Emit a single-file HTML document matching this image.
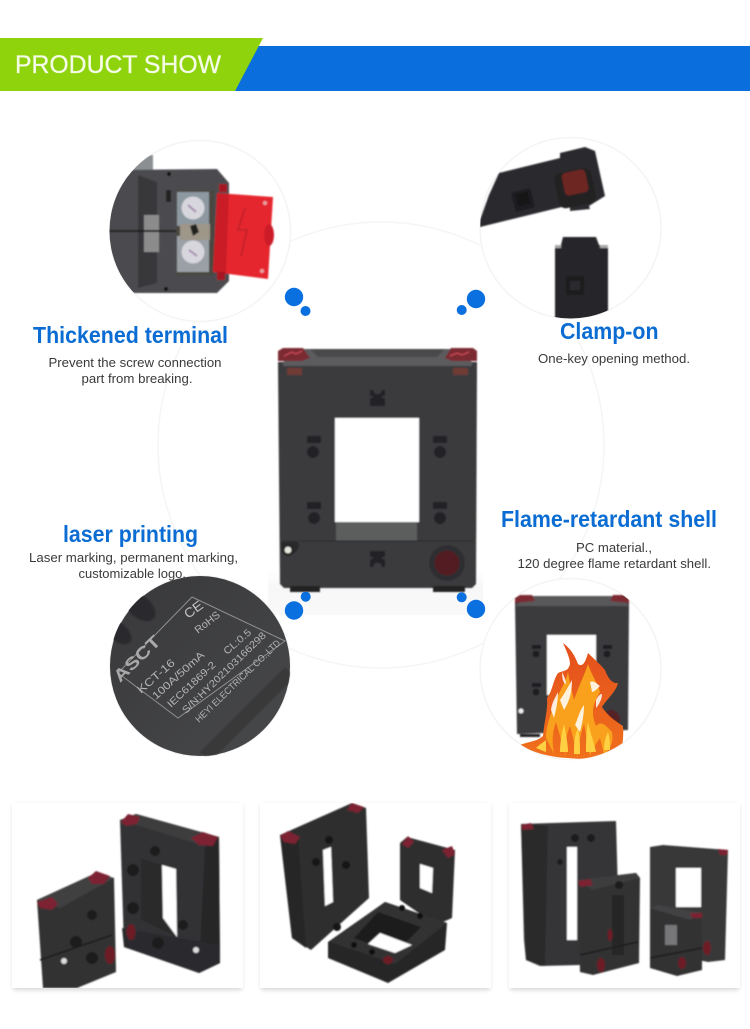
<!DOCTYPE html>
<html><head><meta charset="utf-8"><style>
html,body{margin:0;padding:0;background:#fff}
svg{display:block}
text{font-family:"Liberation Sans",sans-serif}
.t{font-weight:bold;fill:#0b6dd3;font-size:23px}
.d{fill:#3a3a3a;font-size:13px}
.l{fill:#b4b4b4;font-size:9.5px}
</style></head><body>
<svg width="750" height="1029" viewBox="0 0 750 1029" xmlns="http://www.w3.org/2000/svg">
<defs>
<filter id="s" x="-10%" y="-10%" width="120%" height="120%"><feGaussianBlur stdDeviation="0.8"/></filter>
<filter id="s2" x="-10%" y="-10%" width="120%" height="120%"><feGaussianBlur stdDeviation="0.35"/></filter>
<filter id="b" x="-20%" y="-20%" width="140%" height="140%"><feGaussianBlur stdDeviation="2.5"/></filter>
<clipPath id="c1"><circle cx="200" cy="231" r="90.5"/></clipPath>
<clipPath id="c2"><circle cx="570.5" cy="228" r="90.5"/></clipPath>
<clipPath id="c3"><circle cx="200" cy="666" r="90.5"/></clipPath>
<clipPath id="c4"><circle cx="570.5" cy="669" r="90.5"/></clipPath>
<clipPath id="k1"><rect x="12" y="803" width="231" height="185"/></clipPath>
<clipPath id="k2"><rect x="260" y="803" width="231" height="185"/></clipPath>
<clipPath id="k3"><rect x="509" y="803" width="231" height="185"/></clipPath>
<linearGradient id="g" x1="0" y1="0" x2="1" y2="1"><stop offset="0" stop-color="#38383a"/><stop offset="1" stop-color="#48494b"/></linearGradient>
<linearGradient id="pb" x1="0" y1="0" x2="0" y2="1"><stop offset="0" stop-color="#fff"/><stop offset=".4" stop-color="#f7f7f7"/><stop offset="1" stop-color="#f9f9f9"/></linearGradient>
<linearGradient id="fl" x1="0" y1="0" x2="0" y2="1"><stop offset="0" stop-color="#e44f1c"/><stop offset="1" stop-color="#f0701c"/></linearGradient>
</defs>

<!-- banner -->
<polygon points="255,46 750,46 750,91 235,91" fill="#0a6fdc"/>
<polygon points="0,38 263,38 235,91 0,91" fill="#8fd30c"/>
<text x="15" y="73" fill="#f4fbe6" stroke="#f4fbe6" stroke-width=".3" font-size="25" textLength="206" lengthAdjust="spacingAndGlyphs">PRODUCT SHOW</text>

<!-- big circle -->
<circle cx="381" cy="445" r="223" fill="#fff" stroke="#f5f5f5" stroke-width="1.5"/>
<rect x="268" y="570" width="215" height="45" fill="url(#pb)"/>

<!-- main product -->
<g filter="url(#s)">
<polygon points="278,362 477,362 476,584 472,588 284,588 280,584" fill="#3b3b3c"/>
<polygon points="300,349 455,349 472,362 472,366 283,366 283,362" fill="#5c5c5e"/>
<polygon points="310,349 445,349 437,357 318,357" fill="#4a4a4b"/>
<polygon points="278,351 283,348 303,348 310,358 302,361 278,361" fill="#7c2a33"/>
<polygon points="445,358 451,348 473,348 477,351 477,361 452,361" fill="#7c2a33"/>
<path d="M284,356l8,-4 4,2 6,-3M450,356l7,-3 5,2 7,-3" stroke="#d8505c" stroke-width="1" fill="none"/>
<rect x="287" y="368" width="15" height="7" fill="#6e3a35"/>
<rect x="453" y="368" width="15" height="7" fill="#6e3a35"/>
<rect x="335" y="418" width="84" height="104" fill="#fff"/>
<rect x="336" y="522" width="81" height="19" fill="#5c5d5d"/>
<path d="M300,541H473M298,541q0,5 -5,5H282" stroke="#222" stroke-width="1" fill="none"/>
<path d="M282,541a9,9 0 1,0 16,0z" fill="#2b2b2c"/>
<circle cx="288" cy="550" r="6" fill="#222"/><circle cx="288" cy="550" r="3.4" fill="#e8e8e0"/>
<circle cx="447" cy="563" r="18" fill="#2f2f30"/><circle cx="447" cy="563" r="12.5" fill="#521a24"/>
<rect x="290" y="586" width="30" height="6" fill="#232323"/><rect x="433" y="586" width="32" height="6" fill="#232323"/>
<g fill="#242425">
<rect x="307" y="436" width="14" height="7"/><circle cx="313" cy="452" r="6"/>
<rect x="307" y="502" width="14" height="7"/><circle cx="314" cy="518" r="6"/>
<rect x="433" y="436" width="14" height="7"/><circle cx="440" cy="452" r="6"/>
<rect x="433" y="502" width="14" height="7"/><circle cx="440" cy="518" r="6"/>
<path d="M370,390h3l2,4h5l2,-4h3v6h-3v2h3v8h-15v-8h3v-2h-3z"/>
<path d="M370,551h15v6h-3v2h3v8h-3l-2,-4h-5l-2,4h-3v-8h3v-2h-3z"/>
</g>
</g>

<!-- circle 1 -->
<circle cx="200" cy="231" r="90.5" fill="#fff" stroke="#f4f4f4" stroke-width="1.5"/>
<g clip-path="url(#c1)"><g filter="url(#s)">
<polygon points="137,156 153,155 153,170 124,170" fill="#8b8f92"/>
<polygon points="105,170 217,169 229,183 229,281 217,293 105,293" fill="#4c4c50"/>
<polygon points="138,175 157,182 157,283 138,288" fill="#38383a"/>
<rect x="144" y="215" width="15" height="37" fill="#8c8c8c"/>
<rect x="105" y="230" width="75" height="2" fill="#1c1c1c"/>
<circle cx="169" cy="174" r="2" fill="#111"/><circle cx="166" cy="289" r="2" fill="#111"/>
<rect x="166" y="190" width="5" height="12" fill="#222"/>
<rect x="176" y="190" width="38" height="85" fill="#4a463f"/>
<rect x="177" y="192" width="32" height="34" fill="#8d98a0"/>
<rect x="177" y="236" width="32" height="36" fill="#9aa0a6"/>
<rect x="180" y="224" width="30" height="16" fill="#9e9688"/>
<circle cx="193" cy="208" r="11.5" fill="#d8d6dd"/><circle cx="193" cy="252" r="11.5" fill="#d8d6dd"/>
<path d="M188,205l8,7M189,250l8,6" stroke="#a58cb0" stroke-width="2"/>
<polygon points="190,226 196,224 199,232 193,236" fill="#22211f"/>
<polygon points="217,193 273,197 268,279 213,272" fill="#e6252e"/>
<polygon points="217,193 229,194 226,274 213,272" fill="#c91e28"/>
<path d="M245,208l-7,22 9,0 -6,26" stroke="#c7202a" stroke-width="2" fill="none"/>
<ellipse cx="269" cy="235" rx="5" ry="11" fill="#cc1f29"/>
<circle cx="265" cy="203" r="2" fill="#e8a0a2"/><circle cx="262" cy="271" r="2" fill="#e8a0a2"/>
<rect x="219" y="184" width="8" height="8" fill="#a51921"/><rect x="217" y="272" width="8" height="8" fill="#a51921"/>
</g></g>

<!-- circle 2 -->
<circle cx="570.5" cy="228" r="90.5" fill="#fff" stroke="#f4f4f4" stroke-width="1.5"/>
<g clip-path="url(#c2)"><g filter="url(#s)">
<polygon points="499,173 560,158 560,153 585,147 595,151 605,196 589,206 590,209 570,211 570,205 480,227 480,220 489,195" fill="#2c2c2e"/>
<rect x="513" y="190" width="20" height="20" rx="2" fill="#1f1f20" transform="rotate(-14 523 200)"/>
<rect x="517" y="193" width="12" height="12" fill="#151516" transform="rotate(-14 523 199)"/>
<rect x="556" y="170" width="38" height="36" rx="7" fill="#232324" transform="rotate(-12 575 188)"/>
<rect x="563" y="171" width="24" height="23" rx="4" fill="#6e2620" transform="rotate(-12 575 182)"/>
<polygon points="563,237 596,237 599,245 608,246 608,320 555,320 555,246 561,245" fill="#27272a"/>
<rect x="555" y="245" width="6" height="3" fill="#aaa"/><rect x="600" y="245" width="8" height="3" fill="#aaa"/>
<rect x="566" y="276" width="18" height="19" fill="#1a1a1b"/>
<rect x="570" y="281" width="10" height="9" fill="#2c2c2e"/>
</g></g>

<!-- circle 3 -->
<circle cx="200" cy="666" r="90.5" fill="url(#g)" stroke="#f4f4f4" stroke-width="1"/>
<g clip-path="url(#c3)">
<ellipse cx="140" cy="607" rx="18" ry="11" transform="rotate(40 140 607)" fill="#2c2c2d" filter="url(#s)"/>
<ellipse cx="118" cy="632" rx="16" ry="9" transform="rotate(40 118 632)" fill="#2c2c2d" filter="url(#s)"/>
<path d="M205,757L290,672" stroke="#333" stroke-width="14" opacity=".6" filter="url(#s)"/>
<polygon points="192,597 285,641 178,718 118,673" fill="none" stroke="#8f8f8f" stroke-width="1"/>
</g>
<g filter="url(#s2)">
<text x="0" y="0" transform="translate(120,683) rotate(-44)" fill="#a8a8a8" font-size="17" font-weight="bold" textLength="58" lengthAdjust="spacingAndGlyphs">ASCT</text>
<text x="0" y="0" transform="translate(141,694) rotate(-41)" class="l" style="font-size:11px" textLength="46" lengthAdjust="spacingAndGlyphs">KCT-16</text>
<text x="0" y="0" transform="translate(156,700) rotate(-42)" class="l" style="font-size:10.5px" textLength="66" lengthAdjust="spacingAndGlyphs">100A/50mA</text>
<text x="0" y="0" transform="translate(171,708) rotate(-43)" class="l" style="font-size:10px" textLength="62" lengthAdjust="spacingAndGlyphs">IEC61869-2</text>
<text x="0" y="0" transform="translate(186,714) rotate(-44)" class="l" style="font-size:10px" textLength="112" lengthAdjust="spacingAndGlyphs">S/N:HY202103166298</text>
<text x="0" y="0" transform="translate(199,723) rotate(-44)" class="l" style="font-size:9.5px" textLength="114" lengthAdjust="spacingAndGlyphs">HEYI ELECTRICAL CO.,LTD</text>
<text x="0" y="0" transform="translate(227,655) rotate(-41)" class="l" style="font-size:10px" textLength="33" lengthAdjust="spacingAndGlyphs">CL:0.5</text>
<text x="0" y="0" transform="translate(198,634) rotate(-38)" class="l" style="font-size:10.5px" textLength="29" lengthAdjust="spacingAndGlyphs">RoHS</text>
<text x="0" y="0" transform="translate(188,619) rotate(-36)" fill="#c4c4c4" font-size="13" textLength="20" lengthAdjust="spacingAndGlyphs">CE</text>
</g>

<!-- circle 4 -->
<circle cx="570.5" cy="669" r="90.5" fill="#fff" stroke="#f4f4f4" stroke-width="1.5"/>
<g clip-path="url(#c4)"><g filter="url(#s)">
<polygon points="515,602 629,602 628,730 517,734" fill="#3a3a3c"/>
<polygon points="527,596 620,596 629,606 515,606" fill="#58585a"/>
<polygon points="515,598 520,595 532,595 535,601 515,603" fill="#7c2a33"/>
<polygon points="610,601 613,595 625,595 629,598 629,603" fill="#7c2a33"/>
<rect x="547" y="635" width="49" height="60" fill="#fff"/>
<rect x="532" y="645" width="9" height="4" fill="#1f1f20"/><circle cx="536" cy="654" r="3.5" fill="#1f1f20"/>
<rect x="603" y="645" width="9" height="4" fill="#1f1f20"/><circle cx="607" cy="654" r="3.5" fill="#1f1f20"/>
<rect x="532" y="683" width="9" height="4" fill="#1f1f20"/><circle cx="536" cy="692" r="3.5" fill="#1f1f20"/>
<circle cx="521" cy="711" r="2.5" fill="#eee"/>
<circle cx="611" cy="719" r="9" fill="#552028"/>
<rect x="520" y="734" width="20" height="3" fill="#222"/>
</g>
<g filter="url(#s2)">
<path d="M520,745C530,741 536,742 543,736C544,722 548,710 547,698C553,690 553,680 558,673C564,670 568,672 570,664C570,658 566,650 563,643C571,649 575,656 578,664C582,667 585,664 588,653C595,660 600,664 605,670C608,678 612,684 618,683C616,692 606,700 602,707C608,716 614,720 623,726C624,738 622,748 620,757C600,760 580,759 567,758C548,757 532,752 520,745z" fill="url(#fl)"/>
<path d="M556,700C560,690 566,682 568,672C570,684 572,690 574,700C578,688 584,676 588,664C592,676 598,684 600,692C594,702 590,712 596,726C602,720 606,726 612,732C614,742 610,750 604,754L600,738C596,744 592,750 590,756L584,724C580,736 578,746 578,757L570,726C566,736 564,746 566,757L556,722C552,732 552,744 554,754L546,738C546,724 552,712 556,700z" fill="#f9a01b"/>
<path d="M560,752C560,742 562,732 564,724C566,734 568,744 568,752zM586,752C586,742 586,732 588,722C590,732 594,742 596,752zM574,754C574,744 574,736 578,728C580,736 580,746 580,754zM604,750C604,742 606,736 608,732C610,738 610,744 610,750zM536,748C540,744 544,742 546,740C546,744 546,748 546,752z" fill="#ffd043"/>
<path d="M560,700C565,693 568,687 572,680C572,692 570,700 564,710zM590,682C594,680 597,684 600,686C596,690 594,692 592,692zM575,725C578,718 580,710 584,705C584,716 582,724 580,732zM551,710C552,702 555,698 558,692C558,702 556,710 554,718zM562,672C564,676 566,680 566,684C564,684 562,680 562,672zM596,700C598,696 600,694 602,694C602,700 598,706 596,708z" fill="#fff" opacity=".85"/>
</g></g>

<!-- dots -->
<g fill="#0a6fdf">
<circle cx="294" cy="297" r="9.2"/><circle cx="305.5" cy="311" r="5"/>
<circle cx="476" cy="299" r="9.2"/><circle cx="461.7" cy="310" r="5"/>
<circle cx="294" cy="610.5" r="9.2"/><circle cx="305.7" cy="596.7" r="5"/>
<circle cx="476" cy="609" r="9.2"/><circle cx="461.7" cy="597.3" r="5"/>
</g>

<!-- labels -->
<text class="t" x="33" y="343" textLength="195" lengthAdjust="spacingAndGlyphs">Thickened terminal</text>
<text class="d" x="48.5" y="367" textLength="173" lengthAdjust="spacingAndGlyphs">Prevent the screw connection</text>
<text class="d" x="81.5" y="383" textLength="111" lengthAdjust="spacingAndGlyphs">part from breaking.</text>
<text class="t" x="560" y="339" textLength="98.5" lengthAdjust="spacingAndGlyphs">Clamp-on</text>
<text class="d" x="538" y="363" textLength="152" lengthAdjust="spacingAndGlyphs">One-key opening method.</text>
<text class="t" x="63" y="542" textLength="135" lengthAdjust="spacingAndGlyphs">laser printing</text>
<text class="d" x="29" y="562" textLength="209" lengthAdjust="spacingAndGlyphs">Laser marking, permanent marking,</text>
<text class="d" x="78.5" y="578" textLength="107.5" lengthAdjust="spacingAndGlyphs">customizable logo.</text>
<text class="t" x="501" y="527" textLength="216" lengthAdjust="spacingAndGlyphs">Flame-retardant shell</text>
<text class="d" x="576" y="552" textLength="76" lengthAdjust="spacingAndGlyphs">PC material.,</text>
<text class="d" x="517.5" y="568" textLength="193.5" lengthAdjust="spacingAndGlyphs">120 degree flame retardant shell.</text>

<!-- bottom cards -->
<g fill="#000" opacity=".16" filter="url(#b)">
<rect x="13" y="805" width="229" height="185"/><rect x="261" y="805" width="229" height="185"/><rect x="510" y="805" width="229" height="185"/>
</g>
<rect x="12" y="803" width="231" height="185" fill="#fff"/>
<rect x="260" y="803" width="231" height="185" fill="#fff"/>
<rect x="509" y="803" width="231" height="185" fill="#fff"/>

<!-- card 1 -->
<g clip-path="url(#k1)"><g filter="url(#s)">
<polygon points="120,820 136,814 219,837 220,963 199,973 124,947" fill="#333334"/>
<polygon points="120,820 136,814 219,837 205,846" fill="#3d3d3e"/>
<polygon points="205,846 219,837 220,963 199,973" fill="#252526"/>
<polygon points="141,858 162,865 163,918 176,937 141,920" fill="#2a2a2b"/>
<polygon points="162,865 176,869 177,937 163,918" fill="#fff"/>
<polygon points="122,928 220,945 220,963 199,973 124,947" fill="#2c2c2d"/>
<polygon points="121,822 128,814 140,817 137,824 126,826" fill="#7c2430"/>
<polygon points="191,838 203,832 218,837 213,846 199,845" fill="#7c2430"/>
<ellipse cx="131" cy="932" rx="4.5" ry="8" fill="#6d1f28"/>
<circle cx="196" cy="950" r="3" fill="#ddd"/>
<circle cx="155" cy="851" r="5" fill="#1d1d1e"/><circle cx="133" cy="870" r="6" fill="#1d1d1e"/><circle cx="133" cy="908" r="6" fill="#1d1d1e"/><circle cx="183" cy="925" r="5" fill="#1d1d1e"/><circle cx="158" cy="943" r="6" fill="#1d1d1e"/>
<polygon points="37,900 96,873 114,878 116,972 77,988 43,988" fill="#313132"/>
<polygon points="37,900 96,873 114,878 60,908" fill="#3f3f40"/>
<polygon points="37,902 52,897 58,904 52,910 40,908" fill="#7c2430"/>
<polygon points="88,878 96,871 110,876 104,884 92,884" fill="#7c2430"/>
<ellipse cx="110" cy="955" rx="5" ry="9" fill="#6d1f28"/>
<circle cx="64" cy="961" r="3" fill="#ddd"/>
<circle cx="92" cy="915" r="5" fill="#1d1d1e"/><circle cx="76" cy="942" r="6" fill="#1d1d1e"/><circle cx="92" cy="958" r="6" fill="#1d1d1e"/>
<path d="M40,960L112,935" stroke="#1d1d1e" stroke-width="1.5"/>
</g></g>

<!-- card 2 -->
<g clip-path="url(#k2)"><g filter="url(#s)">
<polygon points="280,835 352,803 366,808 369,898 311,950 292,938" fill="#2d2d2e"/>
<polygon points="280,835 298,836 306,948 292,938" fill="#252526"/>
<polygon points="323,850 331,847 333,902 325,906" fill="#fff"/>
<polygon points="280,836 288,831 300,837 295,844 284,842" fill="#7c2430"/>
<polygon points="347,810 352,803 364,807 358,813" fill="#7c2430"/>
<circle cx="329" cy="840" r="4" fill="#171718"/><circle cx="316" cy="862" r="4" fill="#171718"/><circle cx="346" cy="865" r="4" fill="#171718"/><circle cx="337" cy="927" r="4" fill="#171718"/>
<polygon points="400,843 407,837 455,850 452,918 436,925 400,900" fill="#2d2d2e"/>
<polygon points="420,864 433,868 432,893 420,888" fill="#fff"/>
<polygon points="402,844 408,836 414,842 408,848" fill="#7c2430"/>
<polygon points="442,850 452,846 455,854 448,858" fill="#7c2430"/>
<polygon points="385,902 447,923 445,950 388,983 328,958 328,942" fill="#262627"/>
<polygon points="385,902 447,923 395,964 330,942" fill="#323233"/>
<polygon points="378,912 421,927 395,953 354,938" fill="#1e1e1f"/>
<polygon points="380,933 412,945 395,953 368,944" fill="#fff"/>
<ellipse cx="388" cy="960" rx="5" ry="4" fill="#6d1f28"/>
<circle cx="354" cy="945" r="3" fill="#111"/><circle cx="372" cy="952" r="3" fill="#111"/><circle cx="402" cy="908" r="3" fill="#111"/><circle cx="420" cy="916" r="3" fill="#111"/>
</g></g>

<!-- card 3 -->
<g clip-path="url(#k3)"><g filter="url(#s)">
<polygon points="521,824 616,821 618,895 610,960 580,965 540,966 526,960 524,940" fill="#363637"/>
<polygon points="521,824 548,826 545,966 526,960" fill="#2a2a2b"/>
<rect x="567" y="847" width="10" height="93" fill="#fff"/>
<polygon points="521,825 531,823 534,829 523,830" fill="#7c2430"/>
<circle cx="575" cy="838" r="4" fill="#1e1e1f"/><circle cx="591" cy="838" r="4" fill="#1e1e1f"/><circle cx="560" cy="862" r="3" fill="#1e1e1f"/>
<polygon points="650,847 663,845 728,850 725,960 708,962 650,950" fill="#383839"/>
<rect x="676" y="868" width="25" height="39" fill="#fff"/>
<polygon points="718,849 728,850 727,855 720,855" fill="#7c2430"/>
<ellipse cx="707" cy="948" rx="4" ry="7" fill="#6d1f28"/>
<polygon points="578,880 636,873 640,878 639,963 593,975 580,972" fill="#303031"/>
<polygon points="578,880 636,873 640,878 592,890" fill="#3d3d3e"/>
<polygon points="578,881 590,879 593,885 580,887" fill="#7c2430"/>
<rect x="612" y="895" width="12" height="60" fill="#252526"/>
<ellipse cx="601" cy="965" rx="4" ry="7" fill="#6d1f28"/>
<ellipse cx="610" cy="935" rx="2.5" ry="6" fill="#6d1f28"/>
<circle cx="619" cy="885" r="4" fill="#1a1a1b"/>
<path d="M580,955L638,942" stroke="#1b1b1c" stroke-width="1.5"/>
<polygon points="650,908 658,905 702,913 702,970 677,976 650,968" fill="#313132"/>
<polygon points="650,908 658,905 702,913 690,920" fill="#434344"/>
<rect x="665" y="925" width="12" height="20" fill="#77777a"/>
<polygon points="690,913 702,913 702,918 692,918" fill="#7c2430"/>
<ellipse cx="682" cy="963" rx="4" ry="6" fill="#6d1f28"/>
<path d="M650,958L702,948" stroke="#1b1b1c" stroke-width="1.5"/>
</g></g>
</svg>
</body></html>
